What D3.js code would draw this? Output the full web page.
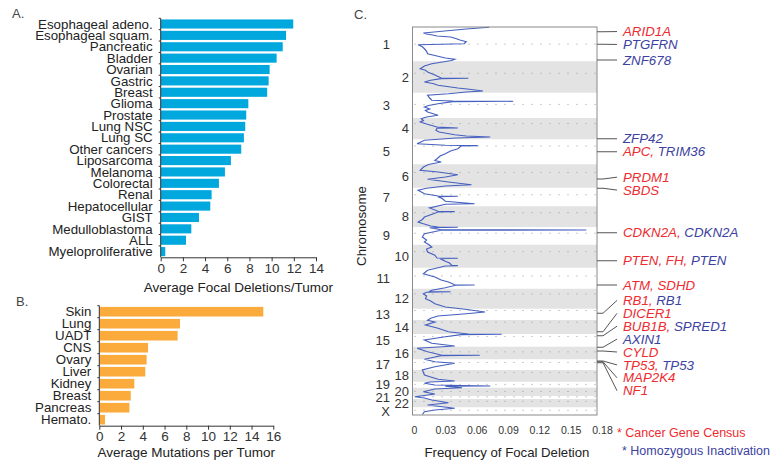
<!DOCTYPE html>
<html>
<head>
<meta charset="utf-8">
<script src="https://cdn.jsdelivr.net/npm/d3@7"></script>
<style>
body{margin:0;background:#fff;}
svg{font-family:"Liberation Sans",Arial,sans-serif;}
</style>
</head>
<body>
<svg id="chart" width="770" height="466"></svg>
<script>
// A. average focal deletions per tumor
var deletionTypes = ["Esophageal adeno.","Esophageal squam.","Pancreatic","Bladder","Ovarian","Gastric","Breast",
    "Glioma","Prostate","Lung NSC","Lung SC","Other cancers","Liposarcoma","Melanoma","Colorectal","Renal",
    "Hepatocellular","GIST","Medulloblastoma","ALL","Myeloproliferative"];
var deletionValues = [11.95,11.3,11.0,10.45,9.82,9.73,9.6,7.9,7.71,7.62,7.5,7.26,6.33,5.79,5.25,4.59,4.47,3.45,2.76,2.28,0.41];
var deletionTicks = [0,2,4,6,8,10,12,14];

// B. average mutations per tumor
var mutationTypes = ["Skin","Lung","UADT","CNS","Ovary","Liver","Kidney","Breast","Pancreas","Hemato."];
var mutationValues = [15.08,7.42,7.2,4.48,4.35,4.23,3.22,2.89,2.77,0.52];
var mutationTicks = [0,2,4,6,8,10,12,14,16];

// C. frequency of focal deletion along the genome
var chromNames = ["1","2","3","4","5","6","7","8","9","10","11","12","13","14","15","16","17","18","19","20","21","22","X"];
var chromSizes = [274,252,202,170,200,188,148,166,142,184,168,160,90,112,102,100,86,94,48,66,24,66,62];
var centromereFrac = [0.5,0.38,0.46,0.26,0.27,0.35,0.38,0.31,0.35,0.3,0.39,0.26,0.16,0.16,0.19,0.41,0.3,0.22,0.44,0.44,0.27,0.29,0.39];
var freqTicks = [0,0.03,0.06,0.09,0.12,0.15,0.18];
// [genome position, frequency]
var deletionTrace = [
 [2,0.072],[16,0.05],[48,0.009],[56,0.012],[64,0.018],[72,0.022],[80,0.035],[92,0.04],[104,0.044],[118,0.05],[134,0.048],[142,0.004],[158,0.008],[174,0.01],[194,0.012],[214,0.013],[232,0.022],[248,0.03],[258,0.039],[268,0.036],
 [294,0.017],[312,0.01],[334,0.006],[346,0.011],[360,0.013],[384,0.02],[408,0.026],[410,0.052],[413,0.026],[426,0.016],[440,0.01],[452,0.018],[466,0.023],[488,0.042],[500,0.055],[512,0.066],[520,0.05],
 [534,0.033],[546,0.013],[568,0.015],[586,0.017],[592,0.037],[594,0.095],[597,0.037],[614,0.023],[628,0.014],[640,0.01],[656,0.015],[668,0.011],[680,0.013],[706,0.023],[720,0.012],
 [734,0.007],[748,0.009],[760,0.006],[776,0.012],[800,0.022],[808,0.042],[810,0.022],[826,0.021],[840,0.024],[862,0.039],[872,0.05],[880,0.073],[888,0.04],
 [906,0.01],[934,0.003],[946,0.03],[949,0.061],[952,0.045],[974,0.042],[992,0.035],[1014,0.03],[1032,0.025],[1054,0.022],[1068,0.02],[1080,0.026],
 [1100,0.014],[1120,0.009],[1146,0.006],[1160,0.023],[1182,0.042],[1200,0.03],[1218,0.013],[1240,0.033],[1262,0.055],[1272,0.03],
 [1290,0.012],[1306,0.004],[1334,0.01],[1352,0.023],[1354,0.042],[1357,0.023],[1372,0.027],[1394,0.03],[1414,0.058],[1418,0.03],
 [1448,0.015],[1474,0.023],[1477,0.039],[1480,0.023],[1496,0.018],[1520,0.01],[1540,0.008],[1560,0.004],[1574,0.009],[1592,0.016],
 [1600,0.023],[1602,0.042],[1606,0.015],[1622,0.026],[1624,0.165],[1626,0.026],[1654,0.01],[1680,0.008],[1704,0.012],[1720,0.01],
 [1740,0.014],[1760,0.017],[1776,0.012],[1800,0.013],[1826,0.02],[1848,0.022],[1850,0.042],[1853,0.025],[1874,0.03],[1888,0.034],[1906,0.036],[1909,0.042],[1912,0.03],
 [1946,0.013],[1974,0.009],[2000,0.02],[2024,0.026],[2040,0.033],[2062,0.039],[2064,0.058],[2066,0.04],[2086,0.03],
 [2106,0.017],[2116,0.015],[2118,0.035],[2122,0.012],[2134,0.009],[2152,0.012],[2174,0.011],[2192,0.016],[2214,0.02],[2240,0.03],
 [2258,0.049],[2280,0.068],[2294,0.05],[2312,0.023],[2330,0.016],[2346,0.013],
 [2360,0.02],[2384,0.011],[2410,0.023],[2438,0.033],[2456,0.052],[2458,0.084],[2461,0.045],
 [2478,0.03],[2504,0.01],[2530,0.017],[2552,0.039],
 [2570,0.003],[2598,0.013],[2624,0.026],[2626,0.063],[2629,0.026],[2640,0.02],
 [2658,0.01],[2678,0.02],[2690,0.039],[2718,0.02],
 [2744,0.008],[2784,0.01],[2818,0.023],[2832,0.039],
 [2840,0.015],[2850,0.01],[2864,0.02],[2872,0.073],[2874,0.03],[2886,0.046],
 [2896,0.02],[2918,0.009],[2936,0.02],[2958,0.001],
 [2968,0.01],[2984,0.017],[3006,0.033],[3024,0.013],[3050,0.039],[3064,0.02],[3078,0.01],[3100,0.008]
];
var genePositions = [38,138,264,894,998,1216,1290,1646,1870,2064,2290,2438,2470,2562,2592,2672,2678,2686];
// c = Cancer Gene Census, h = Homozygous Inactivation
var geneLabels = [
 [["ARID1A","c"]],[["PTGFRN","h"]],[["ZNF678","h"]],[["ZFP42","h"]],[["APC","c"],["TRIM36","h"]],
 [["PRDM1","c"]],[["SBDS","c"]],[["CDKN2A","c"],["CDKN2A","h"]],[["PTEN","c"],["FH","c"],["PTEN","h"]],
 [["ATM","c"],["SDHD","c"]],[["RB1","c"],["RB1","h"]],[["DICER1","c"]],[["BUB1B","c"],["SPRED1","h"]],
 [["AXIN1","h"]],[["CYLD","c"]],[["TP53","c"],["TP53","h"]],[["MAP2K4","c"]],[["NF1","c"]]
];

var RED = "#ee2b30", BLUE = "#3c429f";
var svg = d3.select("#chart");

function barPanel(cats, vals, ticks, o){
    var g = svg.append("g");
    var x = d3.scaleLinear().domain([0, ticks[ticks.length-1]]).range([o.left, o.right]);
    var y = d3.scaleBand().domain(cats).range([o.top, o.bottom]).paddingInner(0.2).paddingOuter(0.1);

    g.selectAll("rect").data(cats).enter().append("rect")
	.attr("x", x(0))
	.attr("y", function(d){ return y(d); })
	.attr("width", function(d,i){ return x(vals[i]) - x(0); })
	.attr("height", y.bandwidth())
	.attr("fill", o.color);

    var xa = g.append("g").attr("transform","translate(0,"+o.bottom+")")
	.call(d3.axisBottom(x).tickValues(ticks).tickSize(4).tickSizeOuter(0).tickPadding(2));
    xa.selectAll("text").attr("font-size", 13.5).attr("fill", "#333").attr("font-family", null);
    xa.selectAll("line,path").attr("stroke", "#333");

    // left axis, ticks between categories
    g.append("line").attr("x1", x(0)).attr("x2", x(0)).attr("y1", o.top).attr("y2", o.bottom).attr("stroke", "#333");
    var step = (o.bottom - o.top) / cats.length;
    g.selectAll(".ytick").data(d3.range(cats.length)).enter().append("line")
	.attr("x1", x(0) - 2).attr("x2", x(0))
	.attr("y1", function(i){ return o.top + i*step; })
	.attr("y2", function(i){ return o.top + i*step; })
	.attr("stroke", "#333");
    g.selectAll(".cat").data(cats).enter().append("text")
	.attr("x", x(0) - 8)
	.attr("y", function(d){ return y(d) + y.bandwidth()/2; })
	.attr("dy", "0.35em").attr("text-anchor", "end")
	.attr("font-size", 13.3).attr("fill", "#222")
	.text(function(d){ return d; });
    g.append("text").attr("x", (o.left + o.right)/2).attr("y", o.titleY)
	.attr("text-anchor", "middle").attr("font-size", 13.5).attr("fill", "#222")
	.text(o.title);
    g.append("text").attr("x", o.tagX).attr("y", o.tagY).attr("font-size", 13).attr("fill", "#444").text(o.tag);
}

barPanel(deletionTypes, deletionValues, deletionTicks,
	 {left:160.7, right:316, top:18.3, bottom:257.3, color:"#00a8de",
	  title:"Average Focal Deletions/Tumor", titleY:292, tag:"A.", tagX:12, tagY:18});
barPanel(mutationTypes, mutationValues, mutationTicks,
	 {left:99.3, right:273.3, top:305.7, bottom:425.7, color:"#fbaa3c",
	  title:"Average Mutations per Tumor", titleY:457, tag:"B.", tagX:16, tagY:306});

// ---- panel C ----
var box = {left:412.5, right:597, top:27, bottom:415};
var cx = d3.scaleLinear().domain([0, 0.18]).range([414, 602]);
var cy = d3.scaleLinear().domain([0, d3.sum(chromSizes)]).range([box.top, box.bottom]);
var starts = [0];
chromSizes.forEach(function(s,i){ starts.push(starts[i] + s); });
var chroms = chromNames.map(function(n,i){ return {name:n, i:i, start:starts[i], end:starts[i+1], cen:starts[i] + centromereFrac[i]*chromSizes[i]}; });

var c = svg.append("g");
c.selectAll(".band").data(chroms.filter(function(d){ return d.i % 2 == 1; })).enter().append("rect")
    .attr("x", box.left).attr("width", box.right - box.left)
    .attr("y", function(d){ return cy(d.start); })
    .attr("height", function(d){ return cy(d.end) - cy(d.start); })
    .attr("fill", "#e3e3e3");
c.selectAll(".cen").data(chroms).enter().append("line")
    .attr("x1", box.left + 2).attr("x2", box.right)
    .attr("y1", function(d){ return cy(d.cen); }).attr("y2", function(d){ return cy(d.cen); })
    .attr("stroke", "#999").attr("stroke-dasharray", "1,8");

var line = d3.line().x(function(d){ return cx(d[1]); }).y(function(d){ return cy(d[0]); });
c.append("path").datum(deletionTrace).attr("d", line)
    .attr("fill", "none").attr("stroke", "#4660bf").attr("stroke-width", 1.2);

c.append("rect").attr("x", box.left).attr("y", box.top)
    .attr("width", box.right - box.left).attr("height", box.bottom - box.top)
    .attr("fill", "none").attr("stroke", "#8a8a8a");

c.selectAll(".chr").data(chroms).enter().append("text")
    .attr("x", function(d){ return d.i % 2 == 0 ? 390 : 409; })
    .attr("y", function(d){ return cy((d.start + d.end)/2); })
    .attr("dy", "0.35em").attr("text-anchor", "end")
    .attr("font-size", 13).attr("fill", "#333")
    .text(function(d){ return d.name; });
c.append("text").attr("transform", "translate(366,226) rotate(-90)")
    .attr("text-anchor", "middle").attr("font-size", 13.3).attr("fill", "#222").text("Chromosome");

var xa = c.append("g").attr("transform", "translate(0," + box.bottom + ")")
    .call(d3.axisBottom(cx).tickValues(freqTicks).tickSize(0).tickPadding(12)
	  .tickFormat(function(t){ return t == 0 ? "0" : d3.format(".2f")(t); }));
xa.select(".domain").remove();
xa.selectAll("text").attr("font-size", 10.5).attr("fill", "#333").attr("font-family", null);
c.append("text").attr("x", 507).attr("y", 456.5).attr("text-anchor", "middle")
    .attr("font-size", 13.2).attr("fill", "#222").text("Frequency of Focal Deletion");
c.append("text").attr("x", 354).attr("y", 19).attr("font-size", 13).attr("fill", "#444").text("C.");

// gene labels, spread so they do not overlap
function spreadLabels(ys, gap){
    var groups = ys.map(function(y,i){ return {idx:[i], center:y}; });
    var merged = true;
    while(merged){
	merged = false;
	for(var i = 0; i < groups.length - 1; i++){
	    var a = groups[i], b = groups[i+1];
	    var aEnd = a.center + (a.idx.length - 1)*gap/2;
	    var bStart = b.center - (b.idx.length - 1)*gap/2;
	    if(bStart - aEnd < gap){
		var idx = a.idx.concat(b.idx);
		groups.splice(i, 2, {idx:idx, center:d3.mean(idx, function(k){ return ys[k]; })});
		merged = true;
		break;
	    }
	}
    }
    var out = [];
    groups.forEach(function(g){
	g.idx.forEach(function(k,j){ out[k] = g.center + (j - (g.idx.length - 1)/2)*gap; });
    });
    return out;
}
var geneY = genePositions.map(function(p){ return cy(p); });
var labelY = spreadLabels(geneY, 12.9);

c.selectAll(".gline").data(genePositions).enter().append("polyline")
    .attr("points", function(d,i){
	return [[box.right, geneY[i]], [box.right + 6, geneY[i]], [box.right + 20, labelY[i]]].join(" ");
    })
    .attr("fill", "none").attr("stroke", "#555").attr("stroke-width", 1);

var gt = c.selectAll(".glabel").data(geneLabels).enter().append("text")
    .attr("x", box.right + 26)
    .attr("y", function(d,i){ return labelY[i]; })
    .attr("dy", "0.35em").attr("font-size", 13.3).attr("font-style", "italic");
gt.each(function(parts){
    var t = d3.select(this);
    parts.forEach(function(p,j){
	t.append("tspan").attr("fill", p[1] == "c" ? RED : BLUE)
	    .text(p[0] + (j < parts.length - 1 ? ", " : ""));
    });
});

c.append("text").attr("x", 617).attr("y", 436.5).attr("font-size", 12.5).attr("fill", RED).text("* Cancer Gene Census");
c.append("text").attr("x", 622).attr("y", 454.5).attr("font-size", 12.5).attr("fill", BLUE).text("* Homozygous Inactivation");
</script>
</body>
</html>
